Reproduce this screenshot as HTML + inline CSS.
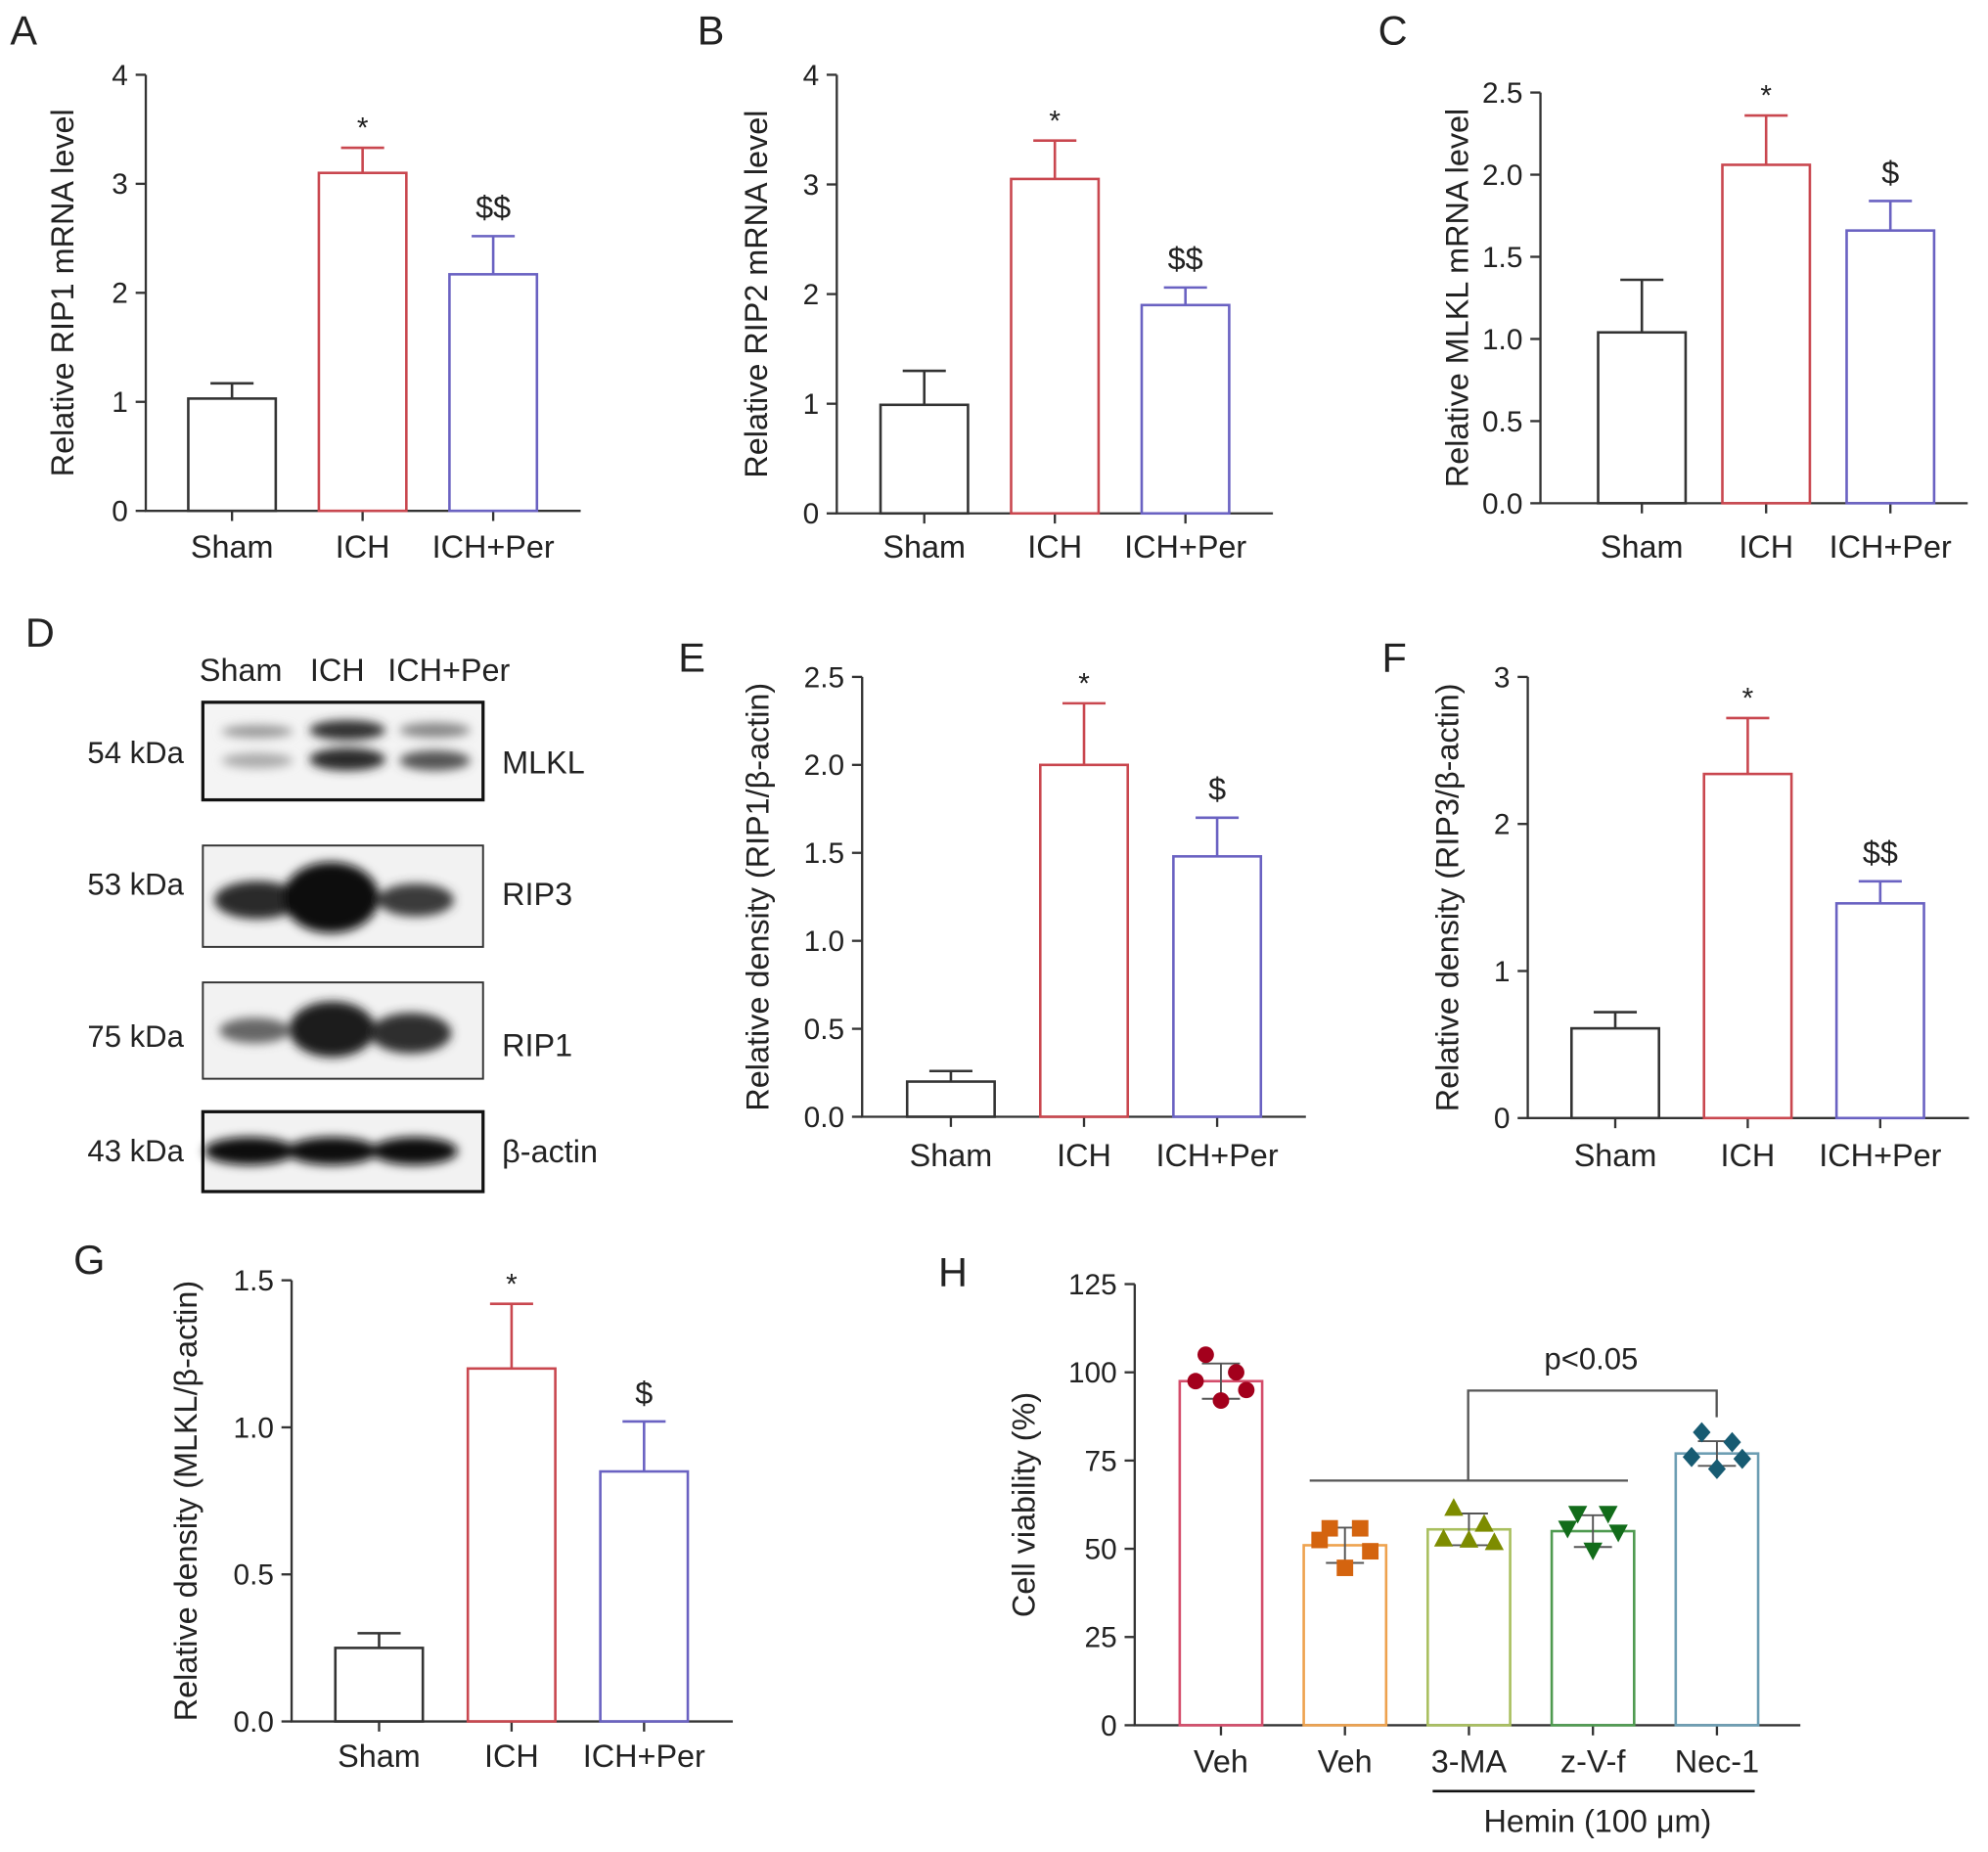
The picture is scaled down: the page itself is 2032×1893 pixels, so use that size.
<!DOCTYPE html>
<html><head><meta charset="utf-8"><style>
html,body{margin:0;padding:0;background:#fff}
svg{display:block}
text{font-family:"Liberation Sans","DejaVu Sans",sans-serif;fill:#222}
</style></head><body>
<svg id="fig" width="2032" height="1893" viewBox="0 0 1568 1461" preserveAspectRatio="none" xmlns="http://www.w3.org/2000/svg">
<defs>
<filter id="blur" x="-20%" y="-50%" width="140%" height="200%"><feGaussianBlur stdDeviation="4"/></filter>
</defs>
<g id="blot">
<text x="190" y="537" font-size="25" text-anchor="middle">Sham</text>
<text x="266" y="537" font-size="25" text-anchor="middle">ICH</text>
<text x="354" y="537" font-size="25" text-anchor="middle">ICH+Per</text>
<rect x="160" y="554" width="221" height="77" fill="#f4f4f4" stroke="#111" stroke-width="2.5"/>
<g filter="url(#blur)">
<ellipse cx="203" cy="577" rx="28" ry="5" fill="#999"/><ellipse cx="203" cy="600" rx="28" ry="6" fill="#aaa"/>
<ellipse cx="274" cy="576" rx="30" ry="8" fill="#333"/><ellipse cx="274" cy="599" rx="30" ry="9" fill="#2a2a2a"/>
<ellipse cx="343" cy="576" rx="28" ry="6" fill="#888"/><ellipse cx="343" cy="600" rx="28" ry="8" fill="#555"/>
</g>
<rect x="160" y="667" width="221" height="80" fill="#f2f2f2" stroke="#333" stroke-width="1.5"/>
<g filter="url(#blur)">
<ellipse cx="203" cy="710" rx="34" ry="15" fill="#2a2a2a"/><ellipse cx="261" cy="708" rx="38" ry="28" fill="#111"/><ellipse cx="328" cy="710" rx="30" ry="13" fill="#3a3a3a"/>
</g>
<rect x="160" y="775" width="221" height="76" fill="#f2f2f2" stroke="#333" stroke-width="1.5"/>
<g filter="url(#blur)">
<ellipse cx="201" cy="813" rx="28" ry="10" fill="#666"/><ellipse cx="262" cy="812" rx="34" ry="22" fill="#1a1a1a"/><ellipse cx="324" cy="815" rx="32" ry="16" fill="#2e2e2e"/>
</g>
<rect x="160" y="877" width="221" height="63" fill="#f2f2f2" stroke="#111" stroke-width="2.5"/>
<g filter="url(#blur)">
<ellipse cx="197" cy="908" rx="36" ry="11" fill="#111"/><ellipse cx="262" cy="908" rx="36" ry="11" fill="#111"/><ellipse cx="327" cy="908" rx="34" ry="11" fill="#111"/>
</g>
<text x="145" y="602" font-size="24" text-anchor="end">54 kDa</text>
<text x="145" y="706" font-size="24" text-anchor="end">53 kDa</text>
<text x="145" y="826" font-size="24" text-anchor="end">75 kDa</text>
<text x="145" y="916" font-size="24" text-anchor="end">43 kDa</text>
<text x="396" y="610" font-size="25">MLKL</text>
<text x="396" y="714" font-size="25">RIP3</text>
<text x="396" y="833" font-size="25">RIP1</text>
<text x="396" y="917" font-size="25">β-actin</text>
</g>
</svg>
<script>
// ---- data ----
const groups = ["Sham","ICH","ICH+Per"];
const aMeans = [1.03, 3.1, 2.17];   const aErr = [1.17, 3.33, 2.52];
const bMeans = [0.99, 3.05, 1.9];   const bErr = [1.3, 3.4, 2.06];
const cMeans = [1.04, 2.06, 1.66];  const cErr = [1.36, 2.36, 1.84];
const eMeans = [0.2, 2.0, 1.48];    const eErr = [0.26, 2.35, 1.7];
const fMeans = [0.61, 2.34, 1.46];  const fErr = [0.72, 2.72, 1.61];
const gMeans = [0.25, 1.2, 0.85];   const gErr = [0.3, 1.42, 1.02];
const aTicks = ["0","1","2","3","4"];
const bTicks = ["0","1","2","3","4"];
const cTicks = ["0.0","0.5","1.0","1.5","2.0","2.5"];
const eTicks = ["0.0","0.5","1.0","1.5","2.0","2.5"];
const fTicks = ["0","1","2","3"];
const gTicks = ["0.0","0.5","1.0","1.5"];
const aMarks = ["","*","$$"]; const bMarks = ["","*","$$"]; const cMarks = ["","*","$"];
const eMarks = ["","*","$"];  const fMarks = ["","*","$$"]; const gMarks = ["","*","$"];
const hCats = ["Veh","Veh","3-MA","z-V-f","Nec-1"];
const hMeans = [97.5, 51, 55.5, 55, 77];
const hSD = [5, 5, 4.5, 4.5, 3.5];
const hPoints = [[105,100,97.5,95,92],[55.8,55.8,52.5,49.3,44.6],[61.5,57,52.8,51.8,52.5],[60,60,55.8,54.7,49.6],[83,80.2,76,75.5,72.6]];
const hTicks = ["0","25","50","75","100","125"];

const NS="http://www.w3.org/2000/svg";
const svg=document.getElementById('fig');
function mk(tag,attrs,parent,txt){const e=document.createElementNS(NS,tag);for(const k in attrs)e.setAttribute(k,attrs[k]);if(txt!==undefined)e.textContent=txt;(parent||svg).appendChild(e);return e;}

function barPanel(cfg){
  const g=mk('g',{});
  
  
  const ax=cfg.ax, y0=cfg.y0, yt=cfg.yt, ymax=cfg.ymax;
  const Y=v=>y0-(v/ymax)*(y0-yt);
  const X=i=>cfg.cx0+i*cfg.dx;
  const axis=mk('path',{d:`M${ax},${yt} V${y0} H${cfg.xend}`,stroke:'#333','stroke-width':1.8,fill:'none'},g);
  
  
  cfg.ticks.forEach((t,i)=>{const v=i*ymax/(cfg.ticks.length-1);const y=Y(v);
    mk('line',{x1:ax-8,x2:ax,y1:y,y2:y,stroke:'#333','stroke-width':1.8},g);
    const tl=mk('text',{x:ax-14,y:y+8,'font-size':23,'text-anchor':'end'},g,t);
    
    });
  const cols=cfg.colors;
  cfg.means.forEach((m,i)=>{const x=X(i);
    mk('line',{x1:x,x2:x,y1:y0,y2:y0+8,stroke:'#333','stroke-width':1.8},g);
    const r=mk('rect',{x:x-34.5,y:Y(m),width:69,height:y0-Y(m),fill:'none',stroke:cols[i],'stroke-width':2},g);
    
    
    const ye=Y(cfg.err[i]);
    mk('line',{x1:x,x2:x,y1:Y(m),y2:ye,stroke:cols[i],'stroke-width':2},g);
    mk('line',{x1:x-17,x2:x+17,y1:ye,y2:ye,stroke:cols[i],'stroke-width':2},g);
    if(cfg.marks[i]){const s=mk('text',{x:x,y:ye-(cfg.marks[i]==='*'?8:14),'font-size':cfg.marks[i]==='*'?23:25,'text-anchor':'middle'},g,cfg.marks[i]);
      
      }
    const c=mk('text',{x:x,y:cfg.laby,'font-size':25,'text-anchor':'middle'},g,cfg.cats[i]);
    
    
  });
  const yl=mk('text',{x:0,y:0,'font-size':25,'text-anchor':'middle',transform:`translate(${cfg.ylx},${(yt+y0)/2}) rotate(-90)`},g,cfg.ylabel);
  
  
  const pl=mk('text',{x:cfg.lx,y:cfg.ly,'font-size':32},g,cfg.letter);
  
  
}
const RB=['#333','#c9474f','#6a62c2'];
barPanel({name:'panel-a',letter:'A',lx:8,ly:35,ax:115,y0:403,yt:59,ymax:4,xend:458,cx0:183,dx:103,means:aMeans,err:aErr,ticks:aTicks,marks:aMarks,cats:groups,colors:RB,laby:440,ylx:58,ylabel:'Relative RIP1 mRNA level'});
barPanel({name:'panel-b',letter:'B',lx:550,ly:35,ax:660,y0:405,yt:59,ymax:4,xend:1004,cx0:729,dx:103,means:bMeans,err:bErr,ticks:bTicks,marks:bMarks,cats:groups,colors:RB,laby:440,ylx:605,ylabel:'Relative RIP2 mRNA level'});
barPanel({name:'panel-c',letter:'C',lx:1087,ly:35,ax:1215,y0:397,yt:73,ymax:2.5,xend:1552,cx0:1295,dx:98,means:cMeans,err:cErr,ticks:cTicks,marks:cMarks,cats:groups,colors:RB,laby:440,ylx:1158,ylabel:'Relative MLKL mRNA level'});
barPanel({name:'panel-e',letter:'E',lx:535,ly:530,ax:680,y0:881,yt:534,ymax:2.5,xend:1030,cx0:750,dx:105,means:eMeans,err:eErr,ticks:eTicks,marks:eMarks,cats:groups,colors:RB,laby:920,ylx:606,ylabel:'Relative density (RIP1/β-actin)'});
barPanel({name:'panel-f',letter:'F',lx:1090,ly:530,ax:1205,y0:882,yt:534,ymax:3,xend:1553,cx0:1274,dx:104.5,means:fMeans,err:fErr,ticks:fTicks,marks:fMarks,cats:groups,colors:RB,laby:920,ylx:1150,ylabel:'Relative density (RIP3/β-actin)'});
barPanel({name:'panel-g',letter:'G',lx:58,ly:1005,ax:230,y0:1358,yt:1010,ymax:1.5,xend:578,cx0:299,dx:104.5,means:gMeans,err:gErr,ticks:gTicks,marks:gMarks,cats:groups,colors:RB,laby:1394,ylx:155,ylabel:'Relative density (MLKL/β-actin)'});

// Panel H
(function(){
  const g=mk('g',{});
  
  
  const ax=895,y0=1361,yt=1013,ymax=125;
  const Y=v=>y0-(v/ymax)*(y0-yt);
  const X=i=>963+i*97.8;
  const barC=['#d44d6b','#eea24e','#a9bf5f','#4f9a50','#6c9db3'];
  const ptC=['#a3001c','#d4640f','#7d8c00','#126c1a','#175b72'];
  const jit=[-12,12,-20,20,0];
  mk('path',{d:`M${ax},${yt} V${y0} H1420`,stroke:'#333','stroke-width':1.8,fill:'none'},g);
  hTicks.forEach((t,i)=>{const y=Y(i*ymax/(hTicks.length-1));
    mk('line',{x1:ax-8,x2:ax,y1:y,y2:y,stroke:'#333','stroke-width':1.8},g);
    const tl=mk('text',{x:ax-14,y:y+8,'font-size':23,'text-anchor':'end'},g,t);
    
    });
  hMeans.forEach((m,i)=>{const x=X(i);
    mk('line',{x1:x,x2:x,y1:y0,y2:y0+8,stroke:'#333','stroke-width':1.8},g);
    const r=mk('rect',{x:x-32.5,y:Y(m),width:65,height:y0-Y(m),fill:'none',stroke:barC[i],'stroke-width':2},g);
    
    
    mk('line',{x1:x,x2:x,y1:Y(m-hSD[i]),y2:Y(m+hSD[i]),stroke:'#555','stroke-width':1.5},g);
    [m-hSD[i],m+hSD[i]].forEach(v=>mk('line',{x1:x-15,x2:x+15,y1:Y(v),y2:Y(v),stroke:'#555','stroke-width':1.5},g));
    hPoints[i].forEach((v,j)=>{const px=x+jit[j],py=Y(v);let p;
      if(i===0)p=mk('circle',{cx:px,cy:py,r:6.5,fill:ptC[i]},g);
      else if(i===1)p=mk('rect',{x:px-6.5,y:py-6.5,width:13,height:13,fill:ptC[i]},g);
      else if(i===2)p=mk('path',{d:`M${px},${py-8} L${px+7.5},${py+6} L${px-7.5},${py+6}Z`,fill:ptC[i]},g);
      else if(i===3)p=mk('path',{d:`M${px},${py+8} L${px+7.5},${py-6} L${px-7.5},${py-6}Z`,fill:ptC[i]},g);
      else p=mk('path',{d:`M${px},${py-8} L${px+7},${py} L${px},${py+8} L${px-7},${py}Z`,fill:ptC[i]},g);
      
      });
    const c=mk('text',{x:x,y:1398,'font-size':25,'text-anchor':'middle'},g,hCats[i]);
    
    
  });
  mk('line',{x1:1033,x2:1284,y1:1168,y2:1168,stroke:'#555','stroke-width':1.8},g);
  const br=mk('path',{d:'M1158,1168 V1097 H1354 V1118',stroke:'#555','stroke-width':1.8,fill:'none'},g);
  
  
  const pv=mk('text',{x:1255,y:1080,'font-size':24,'text-anchor':'middle'},g,'p<0.05');
  
  
  mk('line',{x1:1130,x2:1384,y1:1413,y2:1413,stroke:'#111','stroke-width':2},g);
  const hm=mk('text',{x:1260,y:1445,'font-size':25,'text-anchor':'middle'},g,'Hemin (100 μm)');
  
  
  const yl=mk('text',{x:0,y:0,'font-size':25,'text-anchor':'middle',transform:`translate(816,${(yt+y0)/2}) rotate(-90)`},g,'Cell viability (%)');
  
  
  const pl=mk('text',{x:740,y:1015,'font-size':32},g,'H');
  
  
})();
const d=mk('text',{x:20,y:510,'font-size':32},svg,'D');


</script>
</body></html>
